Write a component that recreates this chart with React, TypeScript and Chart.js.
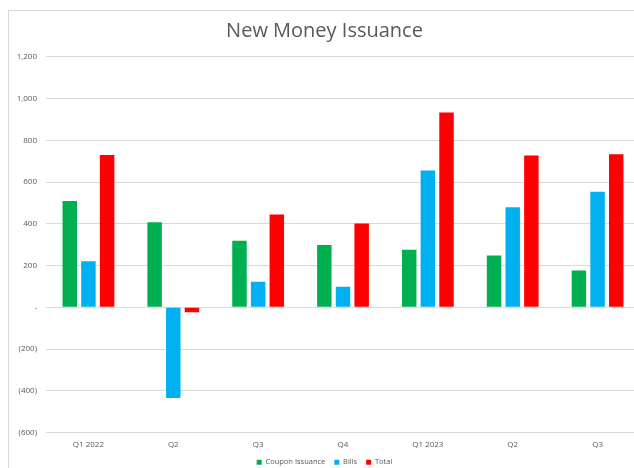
import React, { useEffect, useRef } from "react";
import { Chart, registerables } from "chart.js";

Chart.register(...registerables);

const categories = ["Q1 2022", "Q2", "Q3", "Q4", "Q1 2023", "Q2", "Q3"];
const couponIssuance = [509, 407, 319, 298, 276, 248, 176];
const bills = [221, -435, 122, 98, 655, 479, 554];
const total = [729, -24, 444, 401, 933, 727, 733];

const yMin = -600;
const yMax = 1200;
const yStep = 200;

const FONT = "'Open Sans', 'DejaVu Sans', sans-serif";
const TEXT = "#595959";

function formatTick(v: number): string {
  if (v === 0) return "-";
  const s = Math.abs(v).toLocaleString("en-US");
  return v < 0 ? `(${s})` : s;
}

export default function App() {
  const ref = useRef<HTMLCanvasElement | null>(null);

  useEffect(() => {
    if (!ref.current) return;
    const chart = new Chart(ref.current, {
      type: "bar",
      data: {
        labels: categories,
        datasets: [
          { label: "Coupon Issuance", data: couponIssuance, backgroundColor: "#00B050", borderWidth: 0 },
          { label: "Bills", data: bills, backgroundColor: "#00B0F0", borderWidth: 0 },
          { label: "Total", data: total, backgroundColor: "#FF0000", borderWidth: 0 },
        ],
      },
      options: {
        responsive: false,
        animation: false,
        datasets: { bar: { categoryPercentage: 0.66, barPercentage: 0.775 } },
        layout: { padding: { left: 0, right: 11, top: 0, bottom: 0 } },
        plugins: {
          title: {
            display: true,
            text: "New Money Issuance",
            color: TEXT,
            font: { family: FONT, size: 20, weight: "normal", lineHeight: 1.14 },
            padding: { top: 9, bottom: 14 },
          },
          legend: {
            position: "bottom",
            labels: {
              color: TEXT,
              font: { family: FONT, size: 7.5 },
              boxWidth: 5,
              boxHeight: 5,
              padding: 9,
            },
          },
          tooltip: { enabled: false },
        },
        scales: {
          x: {
            grid: { display: false, drawTicks: false },
            border: { display: false },
            ticks: { color: TEXT, font: { family: FONT, size: 8 }, padding: 7, maxRotation: 0 },
            afterFit: (s: any) => { s.height = 17; },
          },
          y: {
            min: yMin,
            max: yMax,
            grid: { color: "#D9D9D9", drawTicks: false, lineWidth: 1 },
            border: { display: false },
            ticks: {
              stepSize: yStep,
              color: TEXT,
              font: { family: FONT, size: 8 },
              padding: 9,
              callback: (v: any) => formatTick(Number(v)),
            },
            afterFit: (s: any) => { s.width = 37; },
          },
        },
      },
    });
    return () => chart.destroy();
  }, []);

  return (
    <div style={{ position: "fixed", left: 0, top: 0, width: 634, height: 468, overflow: "hidden", background: "#fff" }}>
      <div style={{ position: "absolute", left: 8, top: 10, width: 642, height: 465, border: "1px solid #D9D9D9" }}>
        <canvas ref={ref} width={642} height={465} style={{ display: "block", width: 642, height: 465 }} />
      </div>
    </div>
  );
}
